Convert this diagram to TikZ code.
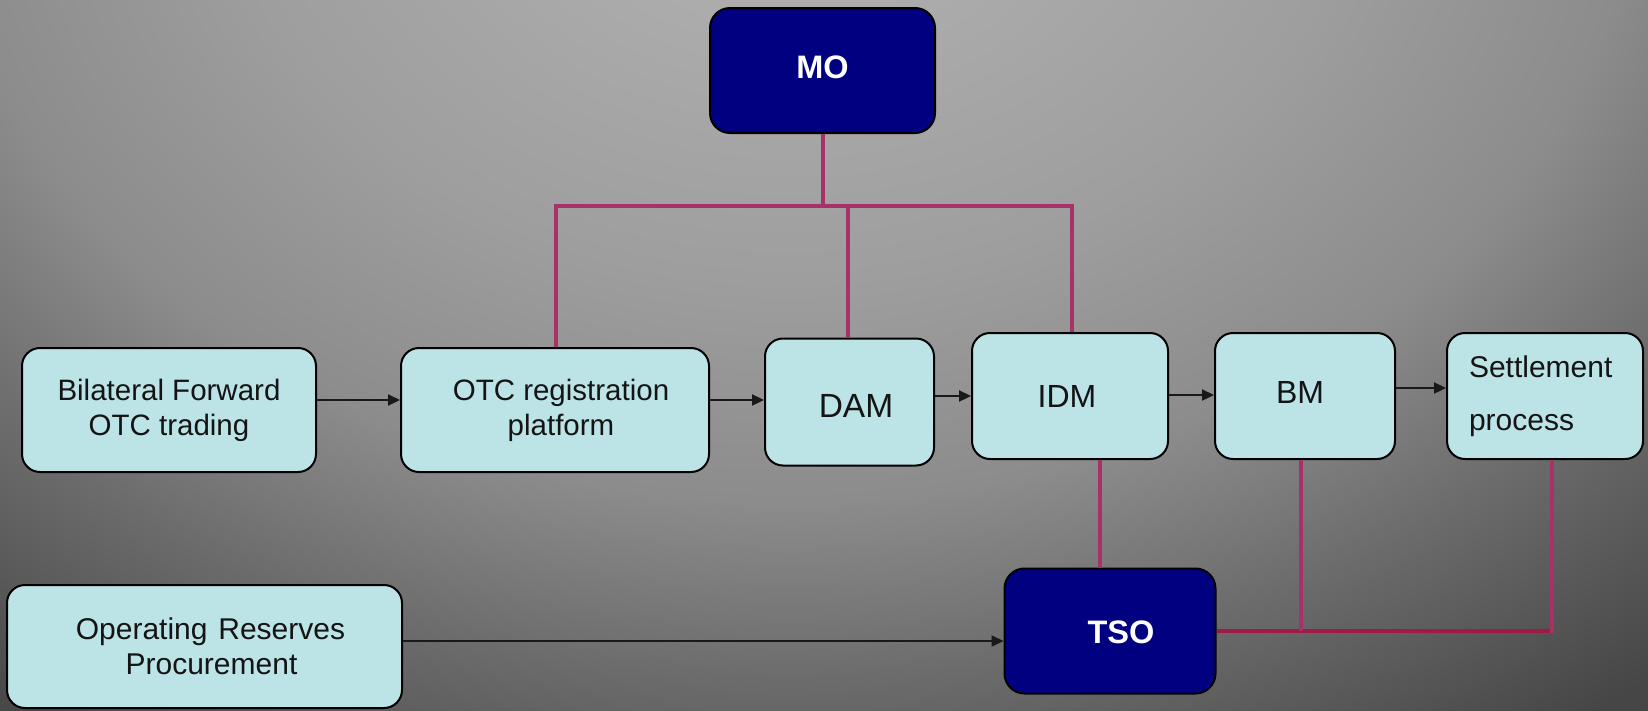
\documentclass[tikz,border=0pt]{standalone}
\usepackage{fontspec}
\setmainfont{Liberation Sans}
\usetikzlibrary{arrows.meta}
\definecolor{bgA}{HTML}{B5B5B5}
\definecolor{bgB}{HTML}{9E9E9E}
\definecolor{bgC}{HTML}{8C8C8C}
\definecolor{bgD}{HTML}{6A6A6A}
\definecolor{bgE}{HTML}{464646}
\definecolor{bgF}{HTML}{3A3A3A}
\definecolor{boxfill}{HTML}{BCE3E6}
\definecolor{navy}{HTML}{000080}
\definecolor{magline}{HTML}{A83268}
\definecolor{redline}{HTML}{A01A48}
\pgfdeclareradialshading{bgshade}{\pgfpoint{0bp}{0bp}}{color(0bp)=(bgA); color(7.17bp)=(bgB); color(10.83bp)=(bgC); color(14bp)=(bgD); color(17.67bp)=(bgE); color(25bp)=(bgF); color(50bp)=(bgF)}
% single-line text: centred at node centre shifted by (#1,#2)
\newcommand{\boxtxt}[3]{\raisebox{\dimexpr #2-0.358em\relax}[0pt][0pt]{\makebox[0pt]{\hspace*{#1}\hspace*{#1}#3}}}
\tikzset{
  lightbox/.style={draw=black, line width=2pt, fill=boxfill, rounded corners=18pt, inner sep=0pt, text=black!92, align=center, font=\fontsize{29.5}{35}\selectfont},
  darkbox/.style={draw=black, line width=2pt, fill=navy, rounded corners=20pt, inner sep=0pt, text=white, font=\fontsize{32.5}{38}\selectfont\bfseries},
  arr/.style={draw=black!90, line width=2.2pt, -{Triangle[length=12pt,width=11pt]}},
  mag/.style={draw=magline, line width=4pt},
  redl/.style={draw=redline, line width=4pt}
}
\begin{document}
\begin{tikzpicture}[x=1pt,y=-1pt]
\useasboundingbox (0,0) rectangle (1648,710);
\begin{scope}
\clip (0,0) rectangle (1648,710);
\fill[bgF] (0,0) rectangle (1648,710);
\shade[shading=bgshade] (790,-150) ellipse [x radius=1950pt, y radius=1500pt];
\end{scope}
% nodes
\node[darkbox, minimum width=225pt, minimum height=125pt] (mo) at (822.5,70.5) {\boxtxt{0pt}{3.5pt}{MO}};
\node[lightbox, minimum width=294pt, minimum height=124pt] (bil) at (169,410) {Bilateral Forward\\OTC trading};
\node[lightbox, minimum width=308pt, minimum height=124pt] (otc) at (555,410) {\hspace*{12pt}OTC registration\\\hspace*{12pt}platform};
\node[lightbox, font=\fontsize{33.5}{38}\selectfont, minimum width=169pt, minimum height=127pt] (dam) at (849.5,402) {\boxtxt{6.5pt}{-3pt}{DAM}};
\node[lightbox, font=\fontsize{32}{38}\selectfont, minimum width=196pt, minimum height=126pt] (idm) at (1070,396) {\boxtxt{-3pt}{0pt}{IDM}};
\node[lightbox, font=\fontsize{32}{38}\selectfont, minimum width=180pt, minimum height=126pt] (bm) at (1305,396) {\boxtxt{-5pt}{3.5pt}{BM}};
\node[lightbox, minimum width=196pt, minimum height=126pt, align=left, text width=150pt, inner xsep=0pt, font=\fontsize{30}{53}\selectfont] (set) at (1545,396) {\hspace*{-1pt}Settlement\\\hspace*{-1pt}process};
\node[lightbox, font=\fontsize{30}{35}\selectfont, minimum width=395pt, minimum height=123pt] (op) at (204.5,646.5) {\hspace*{12pt}Operating\hspace{0.36em}Reserves\\\hspace*{14pt}Procurement};
\node[darkbox, minimum width=211pt, minimum height=125pt] (tso) at (1110,631) {\boxtxt{11pt}{-1pt}{TSO}};
% magenta tree from MO
\coordinate (j0) at (823,206);
\coordinate (jl) at (556,206);
\coordinate (jr) at (1072,206);
\coordinate (jd) at (848,206);
\draw[mag] (mo.south -| j0) -- (j0);
\draw[mag] (otc.north -| jl) -- (jl) -- (jr) -- (idm.north -| jr);
\draw[mag] (jd) -- (dam.north -| jd);
% lines to TSO
\coordinate (ti) at (1100,0);
\draw[mag] (idm.south -| ti) -- (tso.north -| ti);
\coordinate (tb) at (1301,631);
\coordinate (ts) at (1552,631);
\draw[redl] (tso.east |- tb) -- (ts);
\draw[mag] (bm.south -| tb) -- (tb);
\draw[mag] (set.south -| ts) -- ([yshift=-2pt]ts);
% arrows
\coordinate (a1) at (0,400);
\coordinate (a3) at (0,396);
\coordinate (a4) at (0,395);
\coordinate (a5) at (0,388);
\coordinate (a6) at (0,641);
\draw[arr] (bil.east |- a1) -- (otc.west |- a1);
\draw[arr] (otc.east |- a1) -- (dam.west |- a1);
\draw[arr] (dam.east |- a3) -- (idm.west |- a3);
\draw[arr] (idm.east |- a4) -- (bm.west |- a4);
\draw[arr] (bm.east |- a5) -- (set.west |- a5);
\draw[arr] (op.east |- a6) -- (tso.west |- a6);
\end{tikzpicture}
\end{document}
